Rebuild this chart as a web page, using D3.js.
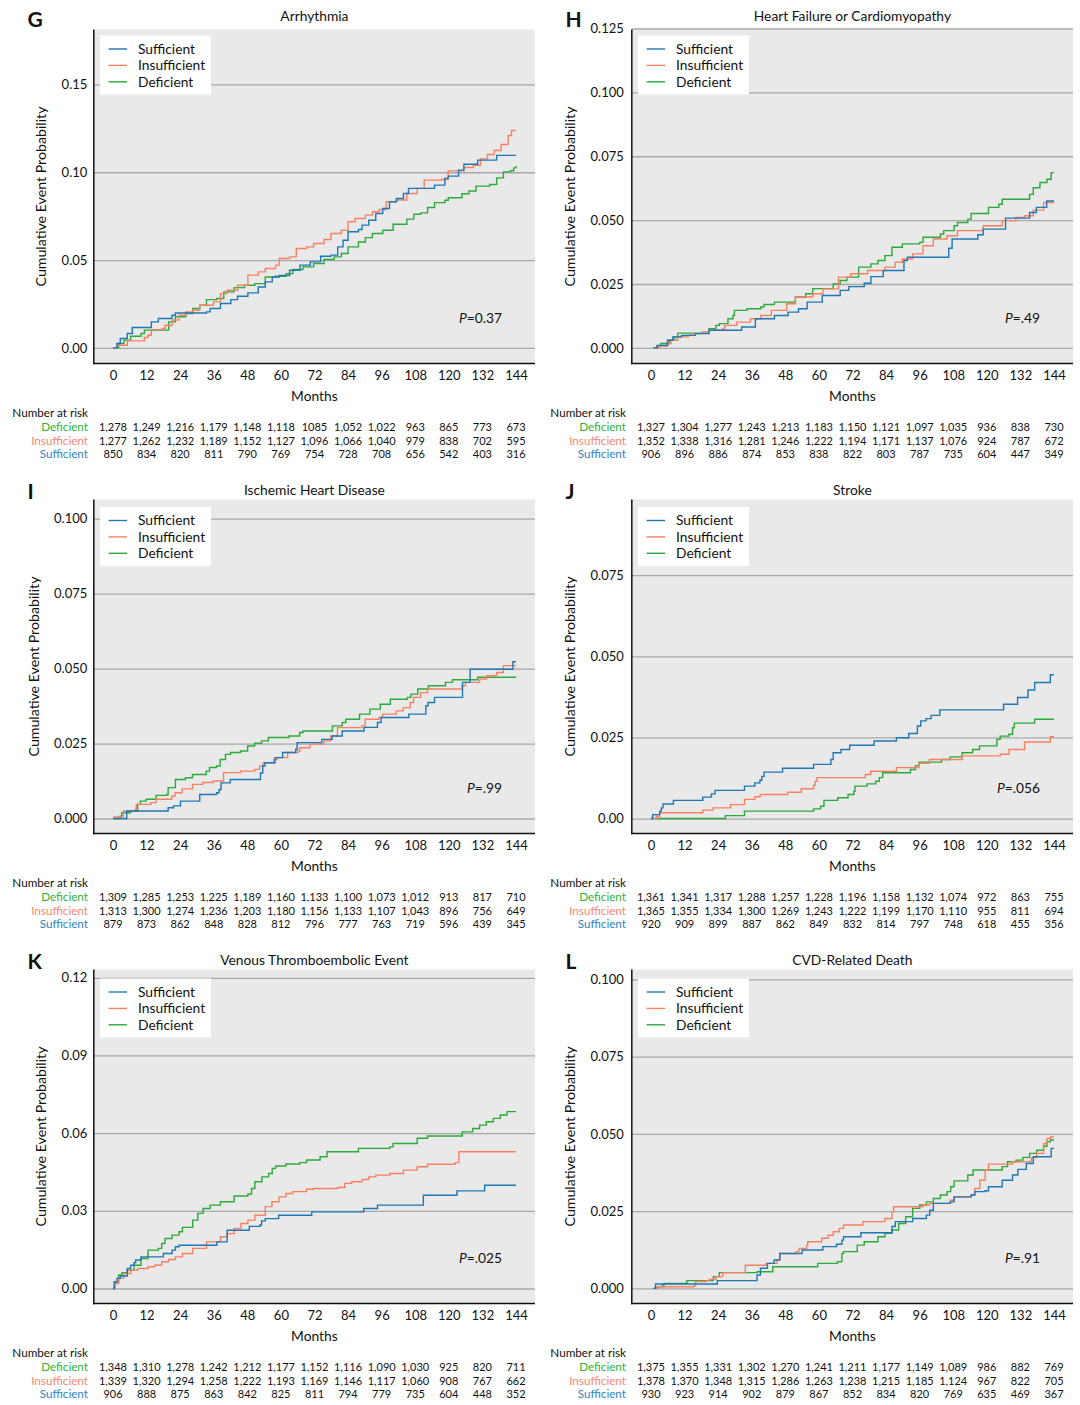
<!DOCTYPE html>
<html>
<head>
<meta charset="utf-8">
<script src="https://cdn.jsdelivr.net/npm/d3@7"></script>
<style>
body { margin: 0; background: #fff; }
text { font-family: Lato, "Open Sans", sans-serif; fill: #111; }
</style>
</head>
<body>
<svg width="1080" height="1405"></svg>
<script>
// ---- data ----
var months = [0, 12, 24, 36, 48, 60, 72, 84, 96, 108, 120, 132, 144];
var groups = ["Sufficient", "Insufficient", "Deficient"];
var riskGroups = ["Deficient", "Insufficient", "Sufficient"];

var panelLetters = ["G", "H", "I", "J", "K", "L"];
var panelTitles = ["Arrhythmia", "Heart Failure or Cardiomyopathy", "Ischemic Heart Disease",
  "Stroke", "Venous Thromboembolic Event", "CVD-Related Death"];
var pLabels = ["=0.37", "=.49", "=.99", "=.056", "=.025", "=.91"];

var yTicks = [
  [0, 0.05, 0.10, 0.15],
  [0, 0.025, 0.05, 0.075, 0.1, 0.125],
  [0, 0.025, 0.05, 0.075, 0.1],
  [0, 0.025, 0.05, 0.075],
  [0, 0.03, 0.06, 0.09, 0.12],
  [0, 0.025, 0.05, 0.075, 0.1]
];
var yTickLabels = [
  ["0.00", "0.05", "0.10", "0.15"],
  ["0.000", "0.025", "0.050", "0.075", "0.100", "0.125"],
  ["0.000", "0.025", "0.050", "0.075", "0.100"],
  ["0.00", "0.025", "0.050", "0.075"],
  ["0.00", "0.03", "0.06", "0.09", "0.12"],
  ["0.000", "0.025", "0.050", "0.075", "0.100"]
];
var yLimits = [[-0.0089, 0.1813], [-0.0061, 0.1246], [-0.0050, 0.1064],
  [-0.0046, 0.0983], [-0.0058, 0.1232], [-0.0049, 0.1032]];
var xLimits = [-6.86, 150.8];

var riskDeficient = [
  ["1,278","1,249","1,216","1,179","1,148","1,118","1085","1,052","1,022","963","865","773","673"],
  ["1,327","1,304","1,277","1,243","1,213","1,183","1,150","1,121","1,097","1,035","936","838","730"],
  ["1,309","1,285","1,253","1,225","1,189","1,160","1,133","1,100","1,073","1,012","913","817","710"],
  ["1,361","1,341","1,317","1,288","1,257","1,228","1,196","1,158","1,132","1,074","972","863","755"],
  ["1,348","1,310","1,278","1,242","1,212","1,177","1,152","1,116","1,090","1,030","925","820","711"],
  ["1,375","1,355","1,331","1,302","1,270","1,241","1,211","1,177","1,149","1,089","986","882","769"]
];
var riskInsufficient = [
  ["1,277","1,262","1,232","1,189","1,152","1,127","1,096","1,066","1,040","979","838","702","595"],
  ["1,352","1,338","1,316","1,281","1,246","1,222","1,194","1,171","1,137","1,076","924","787","672"],
  ["1,313","1,300","1,274","1,236","1,203","1,180","1,156","1,133","1,107","1,043","896","756","649"],
  ["1,365","1,355","1,334","1,300","1,269","1,243","1,222","1,199","1,170","1,110","955","811","694"],
  ["1,339","1,320","1,294","1,258","1,222","1,193","1,169","1,146","1,117","1,060","908","767","662"],
  ["1,378","1,370","1,348","1,315","1,286","1,263","1,238","1,215","1,185","1,124","967","822","705"]
];
var riskSufficient = [
  ["850","834","820","811","790","769","754","728","708","656","542","403","316"],
  ["906","896","886","874","853","838","822","803","787","735","604","447","349"],
  ["879","873","862","848","828","812","796","777","763","719","596","439","345"],
  ["920","909","899","887","862","849","832","814","797","748","618","455","356"],
  ["906","888","875","863","842","825","811","794","779","735","604","448","352"],
  ["930","923","914","902","879","867","852","834","820","769","635","469","367"]
];

// step curves: [month, cumulative probability]
var curveSufficient = [
  [[0,0],[1.4,0.0025],[2.6,0.0053],[5.1,0.0082],[6.9,0.0116],[13.7,0.0148],[16.2,0.0167],[21.1,0.0186],[22.3,0.0199],[33.4,0.0205],[34.7,0.0224],[38.4,0.0253],[42.1,0.0275],[44.5,0.0294],[48.2,0.0313],[51.9,0.0347],[54.4,0.0376],[56.9,0.0404],[59.4,0.0412],[63.1,0.0442],[66.8,0.0471],[70.5,0.049],[74.2,0.0522],[77.9,0.0528],[80.3,0.0575],[82.2,0.0613],[84.0,0.0661],[87.7,0.0674],[89.0,0.0699],[91.4,0.0727],[93.9,0.0765],[96.4,0.0794],[98.8,0.0832],[101.3,0.0851],[103.8,0.0879],[105.6,0.0908],[114.9,0.0927],[118.6,0.0965],[119.8,0.0978],[123.5,0.1012],[125.4,0.1046],[130.3,0.1069],[137.1,0.1096],[144,0.1096]],
  [[0.9,0],[2.2,0.001],[5.9,0.003],[7.8,0.0043],[10.9,0.0049],[15.8,0.0056],[20.7,0.0069],[32.4,0.0082],[37.3,0.0114],[44.1,0.0127],[49.0,0.014],[52.7,0.0153],[55.8,0.0179],[61.2,0.0205],[67.6,0.0225],[70.7,0.024],[76.2,0.0253],[78.6,0.0279],[83.0,0.0303],[90.4,0.0342],[91.6,0.0355],[106.4,0.039],[107.6,0.0426],[116.8,0.0443],[118.7,0.0465],[126.7,0.0508],[135.3,0.053],[137.7,0.055],[141.4,0.0575],[144,0.0575]],
  [[0,0],[4.9,0.0025],[19.7,0.0036],[21.6,0.0042],[24.1,0.0058],[31.0,0.008],[37.0,0.0086],[37.9,0.0097],[38.6,0.0119],[41.9,0.013],[52.7,0.0152],[53.5,0.0175],[54.3,0.0186],[57.9,0.0203],[60.6,0.022],[65.3,0.0231],[65.8,0.0253],[74.6,0.0264],[78.3,0.0275],[81.9,0.0292],[89.7,0.0304],[94.5,0.032],[95.8,0.0337],[105.7,0.0348],[111.8,0.0376],[112.6,0.0387],[114.9,0.0404],[124.9,0.0454],[127.6,0.0498],[142.9,0.0523],[144,0.0523]],
  [[0,0],[0.6,0.0012],[3.1,0.0023],[3.7,0.0033],[4.3,0.0045],[8.0,0.0056],[18.5,0.0066],[21.6,0.0076],[22.9,0.0087],[33.4,0.01],[37.1,0.011],[38.9,0.0118],[39.6,0.013],[40.4,0.0143],[47.0,0.0155],[58.1,0.0167],[64.3,0.0182],[65.1,0.0203],[67.9,0.0213],[71.0,0.0226],[79.7,0.0239],[87.7,0.0249],[92.1,0.0262],[95.2,0.0285],[96.4,0.0301],[98.3,0.0308],[100.1,0.0318],[103.2,0.0335],[126.0,0.0352],[131.0,0.0373],[134.7,0.0396],[137.1,0.0419],[142.7,0.0443],[144,0.0443]],
  [[0,0],[0.4,0.0026],[1.4,0.0039],[2.6,0.0048],[5.1,0.0077],[6.3,0.009],[7.5,0.01],[8.1,0.011],[10.0,0.0122],[18.0,0.0135],[21.1,0.0148],[22.3,0.0161],[23.6,0.0167],[37.1,0.018],[40.8,0.0225],[48.7,0.024],[52.5,0.0245],[53.1,0.0261],[54.4,0.027],[59.2,0.0283],[71.0,0.0296],[89.6,0.0309],[94.5,0.0322],[110.9,0.036],[122.9,0.0377],[132.8,0.0399],[144,0.0399]],
  [[0.9,0],[1.6,0.0014],[23.7,0.0025],[37.9,0.0043],[39.1,0.0065],[41.6,0.0081],[44.0,0.0092],[46.0,0.0113],[54.0,0.0124],[61.4,0.0135],[66.3,0.0143],[68.2,0.0156],[68.8,0.0167],[75.0,0.018],[86.1,0.02],[87.3,0.0216],[93.5,0.0226],[98.4,0.0237],[99.6,0.0253],[100.9,0.0275],[106.9,0.028],[108.3,0.0296],[114.4,0.0302],[115.7,0.0313],[119.4,0.0316],[120.6,0.0329],[125.5,0.035],[129.2,0.0367],[131.1,0.0385],[134.1,0.0404],[136.6,0.0426],[143.0,0.0453],[144,0.0453]]
];
var curveInsufficient = [
  [[0,0],[1.4,0.0015],[5.1,0.004],[11.2,0.0059],[12.5,0.0072],[13.7,0.0104],[17.5,0.011],[18.6,0.0129],[21.1,0.0158],[23.6,0.0186],[26.0,0.0205],[28.5,0.0214],[31.0,0.0243],[35.9,0.0262],[38.4,0.0309],[40.8,0.0328],[44.5,0.0357],[48.2,0.0414],[51.9,0.0433],[54.4,0.0452],[58.1,0.0471],[59.4,0.0509],[63.1,0.0518],[65.5,0.0566],[69.2,0.0575],[71.7,0.0594],[75.4,0.0617],[77.9,0.0651],[81.6,0.067],[84.0,0.0718],[86.5,0.0737],[90.2,0.0756],[92.7,0.0775],[95.1,0.0788],[97.6,0.0832],[101.3,0.0842],[105.0,0.0879],[108.7,0.0908],[111.2,0.0955],[117.4,0.0959],[119.8,0.1008],[125.4,0.1027],[128.8,0.104],[131.3,0.1076],[133.8,0.1101],[136.2,0.1124],[138.7,0.1158],[141.2,0.1209],[142.4,0.1238],[144,0.1238]],
  [[0.9,0],[2.8,0.0007],[5.9,0.0017],[7.1,0.003],[9.6,0.0043],[13.3,0.005],[14.6,0.0056],[18.3,0.0062],[20.7,0.0069],[25.6,0.0075],[26.3,0.0088],[30.6,0.0101],[35.5,0.0114],[39.2,0.0127],[43.0,0.0147],[48.5,0.0173],[51.6,0.0199],[57.8,0.0212],[61.5,0.0231],[67.0,0.0277],[71.3,0.029],[77.4,0.0303],[83.6,0.0316],[87.3,0.0335],[89.8,0.0348],[93.5,0.0368],[97.2,0.04],[100.9,0.0426],[105.8,0.0439],[109.5,0.0459],[118.7,0.0478],[125.5,0.0498],[130.4,0.0511],[133.5,0.0517],[136.6,0.0539],[140.3,0.0569],[144,0.0569]],
  [[0,0.0005],[3.1,0.0008],[3.7,0.0025],[8.0,0.003],[8.3,0.0047],[13.6,0.0053],[15.4,0.0064],[21.0,0.0075],[22.2,0.0086],[24.7,0.0099],[28.4,0.0114],[32.1,0.012],[35.8,0.0125],[39.5,0.0153],[45.6,0.0158],[50.6,0.0164],[52.4,0.0175],[53.7,0.0186],[57.4,0.0197],[58.7,0.0203],[62.4,0.022],[66.1,0.0225],[66.7,0.0236],[70.4,0.0248],[75.3,0.0259],[77.8,0.0275],[80.2,0.0303],[88.9,0.0309],[90.1,0.0331],[95.0,0.0337],[96.3,0.0348],[101.2,0.0359],[103.7,0.037],[106.2,0.0387],[107.4,0.0404],[109.9,0.042],[112.4,0.0432],[124.7,0.0443],[126.0,0.0454],[131.0,0.0465],[133.4,0.0476],[137.1,0.0487],[139.5,0.051],[144,0.051]],
  [[0,0],[1.9,0.0007],[3.1,0.0018],[18.5,0.0026],[22.2,0.0033],[28.4,0.0043],[33.4,0.0059],[37.1,0.0067],[39.0,0.0074],[48.8,0.0081],[53.7,0.0092],[58.1,0.0103],[58.7,0.0115],[59.3,0.0126],[76.6,0.0136],[78.5,0.0146],[87.7,0.0157],[95.8,0.017],[99.5,0.0182],[111.2,0.0193],[124.8,0.0198],[127.9,0.0213],[133.5,0.0236],[142.7,0.0252],[144,0.0252]],
  [[0,0],[0.7,0.0019],[2.0,0.0039],[3.8,0.0058],[6.3,0.0071],[8.8,0.0077],[12.5,0.0084],[14.9,0.009],[17.4,0.0103],[19.9,0.0112],[22.3,0.0122],[24.8,0.0135],[28.5,0.0155],[33.4,0.018],[38.4,0.02],[40.8,0.0212],[43.3,0.0232],[45.7,0.0251],[48.2,0.0264],[50.7,0.0283],[54.4,0.0316],[56.8,0.0335],[59.3,0.0354],[61.8,0.0367],[64.2,0.0374],[69.1,0.0383],[71.6,0.0386],[80.3,0.039],[82.8,0.0406],[85.3,0.0412],[89.0,0.0421],[91.4,0.0431],[93.9,0.0438],[98.9,0.0444],[103.8,0.0457],[108.7,0.047],[112.4,0.048],[122.3,0.0486],[123.6,0.0528],[144,0.0528]],
  [[0.9,0],[2.2,0.0005],[15.3,0.0008],[15.9,0.0022],[19.7,0.0025],[20.8,0.0029],[23.2,0.0038],[25.6,0.0051],[33.7,0.0075],[41.1,0.0081],[45.0,0.0092],[46.0,0.0113],[51.8,0.0119],[52.9,0.0129],[55.6,0.014],[56.0,0.0151],[61.0,0.0162],[63.3,0.0172],[65.1,0.0183],[67.3,0.0194],[68.8,0.0205],[75.7,0.0216],[83.6,0.0226],[86.1,0.0248],[86.7,0.0264],[97.2,0.027],[99.6,0.0275],[107.0,0.0285],[108.3,0.0296],[114.4,0.0302],[115.7,0.0323],[117.5,0.035],[119.4,0.0383],[120.6,0.0402],[129.2,0.041],[135.9,0.0423],[137.8,0.0437],[140.3,0.0469],[141.5,0.0485],[142.7,0.049],[144,0.049]]
];
var curveDeficient = [
  [[0,0],[2.0,0.0025],[3.9,0.0044],[6.3,0.0066],[10.0,0.0082],[11.2,0.0101],[19.9,0.0148],[22.3,0.0177],[26.0,0.0196],[28.5,0.0224],[31.0,0.0243],[33.4,0.0275],[37.1,0.0281],[39.6,0.0319],[43.3,0.0343],[47.0,0.0357],[50.7,0.0366],[54.4,0.0404],[58.1,0.0408],[61.8,0.0423],[64.3,0.0446],[67.9,0.0461],[71.7,0.048],[75.4,0.0503],[79.0,0.0518],[81.6,0.0537],[84.0,0.0575],[87.7,0.0603],[90.2,0.0628],[92.7,0.0651],[96.4,0.067],[100.1,0.0704],[105.0,0.0733],[107.5,0.0761],[110.0,0.0769],[112.4,0.0799],[114.9,0.0827],[118.6,0.0841],[119.8,0.0855],[124.7,0.0878],[127.2,0.0893],[129.7,0.0921],[134.6,0.093],[137.1,0.0968],[139.5,0.1002],[142.0,0.1009],[143.2,0.1025],[144,0.1035]],
  [[0.9,0],[2.2,0.0007],[3.5,0.0017],[6.5,0.003],[8.4,0.0043],[9.6,0.0058],[20.7,0.0075],[23.2,0.0088],[24.4,0.0095],[27.5,0.0114],[29.3,0.0127],[29.8,0.0147],[34.3,0.0153],[39.2,0.016],[40.4,0.017],[44.1,0.0179],[51.6,0.0199],[55.3,0.0212],[57.8,0.0232],[65.1,0.025],[67.6,0.0264],[70.0,0.0277],[74.2,0.0316],[78.6,0.0329],[81.1,0.0342],[83.6,0.0361],[86.1,0.0394],[89.8,0.0407],[96.0,0.0413],[97.2,0.0433],[103.4,0.0446],[104.6,0.0459],[108.3,0.0478],[109.5,0.0491],[113.2,0.0504],[114.4,0.0526],[120.6,0.055],[124.3,0.0562],[125.5,0.0582],[135.3,0.0601],[136.6,0.0627],[139.0,0.0647],[141.5,0.066],[143.0,0.0686],[144,0.0686]],
  [[0,0],[2.5,0.0008],[3.1,0.0019],[6.3,0.0025],[8.8,0.0047],[9.8,0.0058],[11.8,0.0064],[15.4,0.0077],[19.2,0.008],[19.7,0.0103],[22.3,0.013],[25.9,0.0136],[28.4,0.0147],[33.3,0.0158],[34.5,0.017],[37.0,0.0175],[38.3,0.0197],[40.2,0.0214],[42.0,0.022],[45.6,0.0225],[48.1,0.0242],[50.6,0.0251],[53.1,0.0259],[55.5,0.027],[62.9,0.0275],[66.7,0.0287],[67.9,0.0292],[78.4,0.0309],[81.9,0.032],[83.2,0.0331],[88.1,0.0348],[91.8,0.0365],[95.5,0.0381],[99.1,0.0398],[105.2,0.0404],[106.5,0.0415],[108.9,0.0432],[112.7,0.0443],[118.8,0.0454],[121.3,0.0463],[130.3,0.0471],[144,0.0471]],
  [[0,0],[26.6,0.0009],[33.4,0.0023],[58.1,0.003],[60.6,0.0038],[61.8,0.0056],[66.7,0.0064],[70.4,0.0074],[72.5,0.0084],[72.9,0.01],[77.2,0.0107],[80.3,0.0115],[81.6,0.0126],[82.8,0.0141],[92.7,0.0151],[94.5,0.0163],[95.8,0.0174],[103.8,0.0182],[106.9,0.019],[111.2,0.0203],[114.9,0.0213],[117.4,0.0224],[123.6,0.0244],[124.8,0.0254],[127.9,0.026],[129.2,0.028],[129.8,0.0294],[137.1,0.0306],[144,0.0306]],
  [[0,0],[0.7,0.0026],[2.0,0.0052],[3.2,0.0061],[5.1,0.0071],[7.5,0.009],[10.0,0.0116],[12.5,0.0148],[16.2,0.0155],[17.4,0.0174],[18.6,0.0193],[21.1,0.0206],[23.6,0.0219],[24.8,0.0236],[28.5,0.0264],[30.3,0.029],[32.2,0.0309],[34.7,0.0322],[38.4,0.0335],[43.3,0.0357],[48.2,0.0365],[49.5,0.0386],[50.7,0.0412],[53.2,0.0431],[55.6,0.0444],[56.9,0.0464],[58.1,0.0473],[61.8,0.0481],[66.7,0.0486],[69.2,0.0496],[74.0,0.0509],[76.5,0.0528],[87.7,0.0541],[98.9,0.0547],[100.1,0.056],[108.7,0.058],[112.4,0.0589],[124.8,0.0605],[128.5,0.0618],[131.0,0.0631],[133.4,0.0644],[135.9,0.0657],[138.4,0.067],[140.8,0.0683],[144,0.0683]],
  [[0.9,0],[2.2,0.0005],[4.1,0.0011],[4.7,0.0016],[12.8,0.0025],[22.3,0.0038],[24.4,0.0051],[37.9,0.0054],[43.5,0.007],[59.6,0.0081],[66.6,0.0086],[68.2,0.0113],[68.8,0.0119],[73.7,0.014],[76.2,0.0151],[81.1,0.0167],[83.6,0.0178],[86.1,0.0189],[88.5,0.021],[91.0,0.0232],[93.5,0.0259],[96.0,0.027],[98.4,0.028],[100.9,0.0291],[103.4,0.0302],[105.8,0.0313],[107.1,0.0329],[108.3,0.0348],[113.2,0.0367],[115.1,0.0383],[125.5,0.0394],[127.4,0.041],[130.4,0.0415],[132.9,0.0424],[135.3,0.0437],[137.8,0.0447],[140.3,0.046],[141.5,0.0474],[142.7,0.048],[144,0.048]]
];

// ---- drawing ----
var svg = d3.select("svg");
var colors = { Sufficient: "#1f77b4", Insufficient: "#fa8062", Deficient: "#2ca93a" };
var labelColors = { Sufficient: "#2f84c8", Insufficient: "#fa8672", Deficient: "#2cb33c" };
var curves = { Sufficient: curveSufficient, Insufficient: curveInsufficient, Deficient: curveDeficient };
var risks = { Sufficient: riskSufficient, Insufficient: riskInsufficient, Deficient: riskDeficient };

var plotLeft = 93.8, plotRight = 535, plotTop = 29.5, plotBottom = 363.5;
var wordSize = 13.8, tickSize = 13, riskWordSize = 11.7, riskNumSize = 11;

panelTitles.forEach(function(title, i) {
  var col = i % 2, row = Math.floor(i / 2);
  var g = svg.append("g")
    .attr("transform", "translate(" + (col * 538) + "," + (row * 470) + ")");

  var x = d3.scaleLinear().domain(xLimits).range([plotLeft, plotRight]);
  var y = d3.scaleLinear().domain(yLimits[i]).range([plotBottom, plotTop]);

  g.append("rect")
    .attr("x", plotLeft).attr("y", plotTop)
    .attr("width", plotRight - plotLeft).attr("height", plotBottom - plotTop)
    .attr("fill", "#e9e9e9");

  // grid
  var grid = g.append("g")
    .attr("transform", "translate(" + plotLeft + ",0)")
    .call(d3.axisLeft(y).tickValues(yTicks[i]).tickSize(-(plotRight - plotLeft)).tickFormat(""));
  grid.select(".domain").remove();
  grid.selectAll("line").attr("stroke", "#a8a8a8").attr("stroke-width", 1.3);

  // curves
  var line = d3.line()
    .x(function(d) { return x(d[0]); })
    .y(function(d) { return y(d[1]); })
    .curve(d3.curveStepAfter);
  ["Deficient", "Insufficient", "Sufficient"].forEach(function(name) {
    g.append("path")
      .datum(curves[name][i])
      .attr("d", line)
      .attr("fill", "none")
      .attr("stroke", colors[name])
      .attr("stroke-width", 1.4);
  });

  // spines
  g.append("line").attr("x1", plotLeft).attr("x2", plotLeft)
    .attr("y1", plotTop).attr("y2", plotBottom + 0.75)
    .attr("stroke", "#111").attr("stroke-width", 1.5);
  g.append("line").attr("x1", plotLeft - 0.75).attr("x2", plotRight)
    .attr("y1", plotBottom).attr("y2", plotBottom)
    .attr("stroke", "#111").attr("stroke-width", 1.5);

  // y axis labels
  var yAx = g.append("g")
    .attr("transform", "translate(" + plotLeft + ",0)")
    .call(d3.axisLeft(y).tickValues(yTicks[i]).tickSize(0).tickPadding(6.5 + col * 1.5)
      .tickFormat(function(d, k) { return yTickLabels[i][k]; }));
  yAx.select(".domain").remove();
  yAx.selectAll("text").attr("font-size", tickSize).attr("font-family", "Lato").attr("fill", "#111");

  var labelLeft = d3.min(yAx.selectAll("text").nodes(), function(n) { return n.getBBox().x; }) + plotLeft;
  g.append("text")
    .attr("transform", "translate(" + (labelLeft - 15.5) + "," + ((plotTop + plotBottom) / 2) + ") rotate(-90)")
    .attr("text-anchor", "middle")
    .attr("font-size", 14.2)
    .text("Cumulative Event Probability");

  // x axis labels
  var xAx = g.append("g")
    .attr("transform", "translate(0," + plotBottom + ")")
    .call(d3.axisBottom(x).tickValues(months).tickSize(0).tickPadding(7.3).tickFormat(d3.format("d")));
  xAx.select(".domain").remove();
  xAx.selectAll("text").attr("font-size", tickSize).attr("font-family", "Lato").attr("fill", "#111");

  g.append("text")
    .attr("x", (plotLeft + plotRight) / 2).attr("y", 400.5)
    .attr("text-anchor", "middle").attr("font-size", wordSize)
    .text("Months");

  // title and letter
  g.append("text")
    .attr("x", (plotLeft + plotRight) / 2).attr("y", row === 0 ? 21 : 25)
    .attr("text-anchor", "middle").attr("font-size", wordSize)
    .text(title);
  g.append("text")
    .attr("x", 27.5).attr("y", row === 0 ? 27 : 28.5)
    .attr("font-family", "Liberation Sans, Arial, sans-serif")
    .attr("font-weight", "bold").attr("font-size", 21)
    .text(panelLetters[i]);

  // legend
  var lg = g.append("g").attr("transform", "translate(100," + (plotTop + 6 + row * 1.5) + ")");
  lg.append("rect").attr("width", 111).attr("height", 59).attr("fill", "#fff");
  groups.forEach(function(name, k) {
    var yy = 13.5 + k * 16.4;
    lg.append("line").attr("x1", 8.6).attr("x2", 27).attr("y1", yy).attr("y2", yy)
      .attr("stroke", colors[name]).attr("stroke-width", 1.4);
    lg.append("text").attr("x", 38).attr("y", yy + 4.8).attr("font-size", wordSize).text(name);
  });

  // p value
  var pt = g.append("text").attr("x", 502).attr("y", 322.5)
    .attr("text-anchor", "end").attr("font-size", wordSize);
  pt.append("tspan").attr("font-style", "italic").text("P");
  pt.append("tspan").text(pLabels[i]);

  // number at risk
  g.append("text").attr("x", 88).attr("y", 417)
    .attr("text-anchor", "end").attr("font-size", riskWordSize).text("Number at risk");
  riskGroups.forEach(function(name, k) {
    var yy = 431 + k * 13.65;
    g.append("text").attr("x", 88).attr("y", yy)
      .attr("text-anchor", "end").attr("font-size", riskWordSize)
      .style("fill", labelColors[name]).text(name);
    g.selectAll(null)
      .data(risks[name][i])
      .enter().append("text")
      .attr("x", function(d, m) { return x(months[m]); })
      .attr("y", yy)
      .attr("text-anchor", "middle").attr("font-size", riskNumSize)
      .text(function(d) { return d; });
  });
});
</script>
</body>
</html>
